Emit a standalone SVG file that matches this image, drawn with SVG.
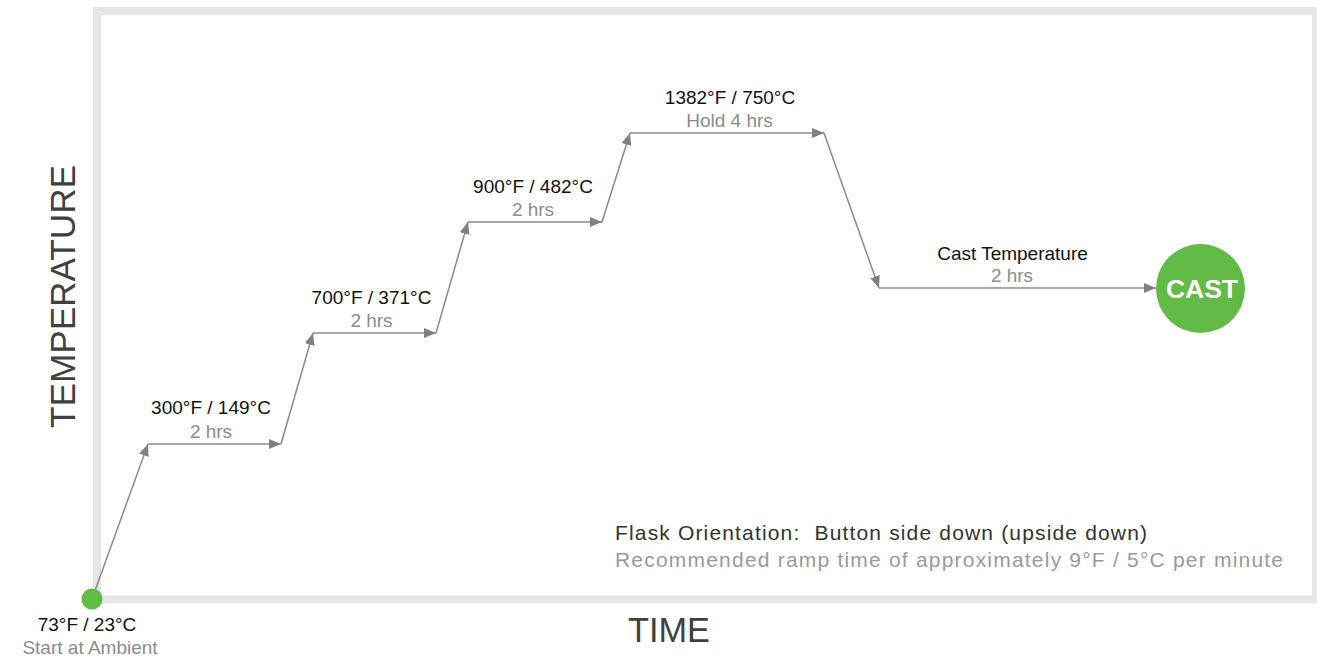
<svg xmlns="http://www.w3.org/2000/svg" width="1317" height="658" viewBox="0 0 1317 658">
<style>
text{font-family:"Liberation Sans",Arial,sans-serif}
.t{font-size:19px;fill:#111;text-anchor:middle}
.s{font-size:19px;fill:#8c8c8c;text-anchor:middle}
.ax{font-size:35px;fill:#404040}
.n{font-size:21px;white-space:pre}
.c{fill:none;stroke:#8a8a8a;stroke-width:1.5;marker-end:url(#ah)}
</style>
<defs>
<marker id="ah" markerUnits="userSpaceOnUse" markerWidth="12" markerHeight="10" refX="12" refY="5" orient="auto">
<path d="M0,0 L12,5 L0,10 z" fill="#808080"/>
</marker>
</defs>
<rect width="1317" height="658" fill="#fff"/>
<g id="frame">
<rect x="97" y="11" width="1219" height="588.5" fill="none" stroke="#e6e6e7" stroke-width="8"/>
</g>
<g id="axis-labels">
<text class="ax" transform="translate(75,296.5) rotate(-90)" text-anchor="middle" textLength="263" lengthAdjust="spacingAndGlyphs">TEMPERATURE</text>
<text class="ax" x="628" y="641.5" textLength="82" lengthAdjust="spacingAndGlyphs">TIME</text>
</g>
<g id="connectors">
<line class="c" x1="92" y1="599" x2="148" y2="444"/>
<line class="c" x1="148" y1="444" x2="281" y2="444"/>
<line class="c" x1="281" y1="444" x2="313" y2="333"/>
<line class="c" x1="313" y1="333" x2="436" y2="333"/>
<line class="c" x1="436" y1="333" x2="468" y2="222"/>
<line class="c" x1="468" y1="222" x2="602" y2="222"/>
<line class="c" x1="602" y1="222" x2="630" y2="133"/>
<line class="c" x1="630" y1="133" x2="824" y2="133"/>
<line class="c" x1="824" y1="133" x2="879" y2="288"/>
<line class="c" x1="879" y1="288" x2="1156" y2="288"/>
</g>
<g id="start">
<circle cx="92" cy="599" r="10.5" fill="#62bb46"/>
<text class="t" x="87" y="631">73°F / 23°C</text>
<text class="s" x="90" y="653.5">Start at Ambient</text>
</g>
<g id="step-300">
<text class="t" x="211" y="413.5">300°F / 149°C</text>
<text class="s" x="211" y="437.5">2 hrs</text>
</g>
<g id="step-700">
<text class="t" x="371.5" y="303.5">700°F / 371°C</text>
<text class="s" x="371.5" y="326.5">2 hrs</text>
</g>
<g id="step-900">
<text class="t" x="533" y="192.5">900°F / 482°C</text>
<text class="s" x="533" y="215.5">2 hrs</text>
</g>
<g id="step-1382">
<text class="t" x="730" y="104">1382°F / 750°C</text>
<text class="s" x="729.5" y="126.5">Hold 4 hrs</text>
</g>
<g id="step-cast-temp">
<text class="t" x="1012.5" y="259.5">Cast Temperature</text>
<text class="s" x="1012" y="281.5">2 hrs</text>
</g>
<g id="cast">
<circle cx="1200.5" cy="288.5" r="44.5" fill="#62bb46"/>
<text x="1202" y="298" font-size="26.5" font-weight="bold" fill="#fff" text-anchor="middle">CAST</text>
</g>
<g id="notes">
<text class="n" x="615" y="540" fill="#333" textLength="532" xml:space="preserve">Flask Orientation:  Button side down (upside down)</text>
<text class="n" x="615" y="567" fill="#9a9a9a" textLength="668">Recommended ramp time of approximately 9°F / 5°C per minute</text>
</g>
</svg>
